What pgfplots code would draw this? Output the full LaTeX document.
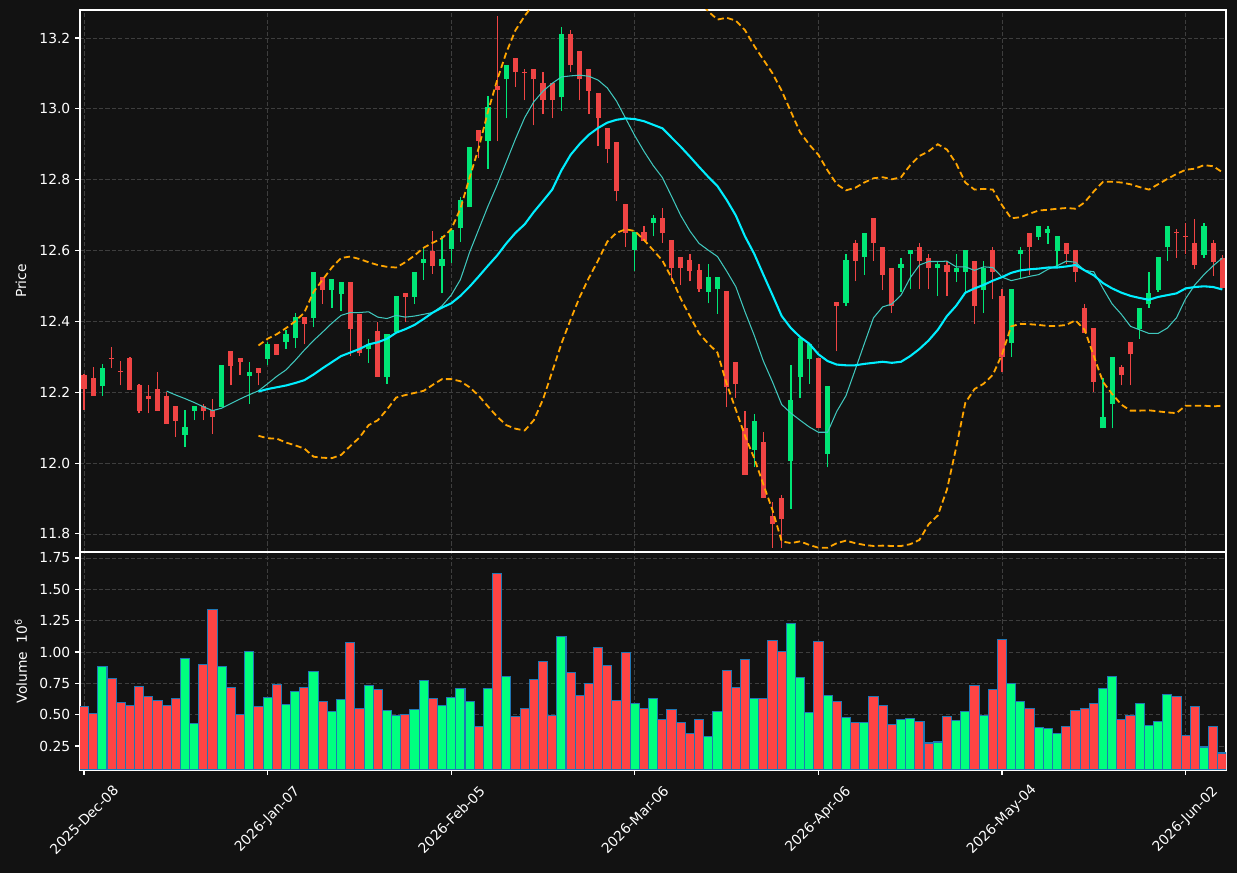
\documentclass[border=0pt]{standalone}
\usepackage{pgfplots}
\pgfplotsset{compat=1.18}
\usepackage{pgfplotstable}
\usepackage{fontspec}
\setmainfont{DejaVu Sans}
\definecolor{bg}{RGB}{18,18,18}
\definecolor{cup}{RGB}{0,230,118}
\definecolor{cdn}{RGB}{239,68,68}
\definecolor{vup}{RGB}{0,255,127}
\definecolor{vdn}{RGB}{255,68,68}
\definecolor{vedge}{RGB}{31,119,180}
\definecolor{gridc}{RGB}{62,62,62}
\definecolor{maA}{RGB}{0,238,255}
\definecolor{maB}{RGB}{64,200,190}
\definecolor{bb}{RGB}{255,165,0}

% up candles: index open high low close volume(1e6)
\pgfplotstableread{
i o h l c v
2 12.217 12.280 12.190 12.268 0.887
11 12.080 12.149 12.045 12.102 0.951
12 12.148 12.161 12.121 12.161 0.433
15 12.158 12.276 12.158 12.276 0.887
18 12.247 12.286 12.168 12.256 1.006
20 12.294 12.341 12.276 12.335 0.640
22 12.342 12.376 12.322 12.364 0.584
23 12.352 12.425 12.325 12.411 0.688
25 12.410 12.538 12.384 12.538 0.847
27 12.488 12.519 12.439 12.519 0.529
28 12.478 12.510 12.430 12.510 0.624
31 12.322 12.351 12.283 12.335 0.736
33 12.244 12.364 12.224 12.364 0.537
34 12.371 12.471 12.371 12.471 0.497
36 12.469 12.538 12.449 12.538 0.545
37 12.565 12.606 12.517 12.577 0.775
39 12.555 12.640 12.479 12.577 0.576
40 12.604 12.657 12.565 12.657 0.640
41 12.663 12.751 12.624 12.743 0.712
42 12.722 12.891 12.722 12.891 0.608
44 12.908 13.036 12.831 13.006 0.712
46 13.083 13.125 12.973 13.125 0.807
52 13.032 13.230 12.995 13.212 1.126
60 12.601 12.651 12.542 12.651 0.590
62 12.679 12.701 12.640 12.691 0.632
68 12.483 12.562 12.451 12.525 0.322
69 12.490 12.525 12.422 12.525 0.529
73 12.038 12.138 11.989 12.119 0.632
77 12.007 12.276 11.870 12.178 1.229
78 12.244 12.354 12.185 12.354 0.799
79 12.295 12.337 12.224 12.337 0.521
81 12.027 12.217 11.988 12.217 0.656
83 12.451 12.591 12.444 12.572 0.481
85 12.581 12.650 12.532 12.650 0.441
89 12.552 12.579 12.483 12.561 0.465
90 12.591 12.601 12.490 12.601 0.473
93 12.552 12.571 12.471 12.561 0.282
95 12.540 12.591 12.511 12.552 0.457
96 12.540 12.601 12.483 12.601 0.529
98 12.488 12.571 12.423 12.552 0.497
101 12.340 12.490 12.300 12.490 0.752
102 12.591 12.611 12.521 12.601 0.608
104 12.638 12.669 12.630 12.669 0.401
105 12.650 12.669 12.619 12.660 0.393
106 12.599 12.640 12.552 12.640 0.353
111 12.098 12.239 12.098 12.129 0.712
112 12.167 12.299 12.098 12.299 0.807
115 12.379 12.439 12.351 12.439 0.592
116 12.449 12.540 12.439 12.479 0.417
117 12.488 12.581 12.483 12.581 0.449
118 12.609 12.669 12.570 12.669 0.664
122 12.586 12.679 12.579 12.669 0.242
}\upc

% down candles
\pgfplotstableread{
i o h l c v
0 12.249 12.252 12.151 12.209 0.568
1 12.239 12.270 12.190 12.190 0.513
3 12.298 12.327 12.268 12.296 0.791
4 12.259 12.288 12.219 12.257 0.600
5 12.298 12.300 12.205 12.207 0.576
6 12.220 12.222 12.140 12.148 0.728
7 12.190 12.219 12.140 12.180 0.648
8 12.209 12.256 12.148 12.148 0.616
9 12.190 12.200 12.110 12.111 0.576
10 12.161 12.161 12.074 12.120 0.627
13 12.160 12.168 12.121 12.148 0.903
14 12.150 12.180 12.082 12.131 1.341
16 12.315 12.315 12.219 12.275 0.720
17 12.296 12.298 12.249 12.286 0.505
19 12.268 12.268 12.219 12.255 0.568
21 12.335 12.335 12.305 12.305 0.744
24 12.411 12.411 12.335 12.393 0.720
26 12.526 12.526 12.449 12.488 0.608
29 12.510 12.510 12.302 12.379 1.078
30 12.420 12.420 12.302 12.311 0.553
32 12.372 12.398 12.244 12.244 0.704
35 12.479 12.479 12.398 12.469 0.505
38 12.599 12.656 12.535 12.555 0.632
43 12.939 12.939 12.860 12.908 0.409
45 13.065 13.262 12.908 13.054 1.627
47 13.144 13.144 13.063 13.103 0.489
48 13.104 13.112 13.024 13.102 0.553
49 13.113 13.113 12.953 13.083 0.783
50 13.073 13.103 12.985 13.024 0.927
51 13.073 13.073 12.973 13.024 0.497
53 13.212 13.222 13.103 13.123 0.839
54 13.164 13.164 13.024 13.083 0.656
55 13.113 13.113 12.985 13.051 0.752
56 13.044 13.044 12.895 12.973 1.038
57 12.946 12.946 12.846 12.886 0.895
58 12.906 12.906 12.739 12.767 0.616
59 12.730 12.730 12.610 12.649 0.998
61 12.651 12.669 12.628 12.628 0.553
63 12.691 12.720 12.622 12.649 0.465
64 12.631 12.631 12.513 12.551 0.545
65 12.583 12.583 12.503 12.551 0.441
66 12.573 12.591 12.513 12.542 0.346
67 12.544 12.562 12.483 12.490 0.465
70 12.485 12.485 12.157 12.214 0.855
71 12.285 12.285 12.185 12.223 0.720
72 12.099 12.146 11.967 11.967 0.943
74 12.060 12.087 11.901 11.901 0.632
75 11.851 11.889 11.761 11.829 1.094
76 11.901 11.910 11.761 11.841 1.006
80 12.296 12.296 12.099 12.099 1.086
82 12.454 12.454 12.315 12.443 0.608
84 12.622 12.630 12.513 12.571 0.441
86 12.691 12.691 12.571 12.622 0.648
87 12.611 12.611 12.488 12.532 0.576
88 12.552 12.552 12.423 12.442 0.425
91 12.611 12.620 12.490 12.571 0.449
92 12.579 12.591 12.490 12.552 0.274
94 12.560 12.571 12.471 12.540 0.489
97 12.571 12.571 12.393 12.442 0.736
99 12.601 12.611 12.462 12.540 0.704
100 12.471 12.490 12.256 12.300 1.102
103 12.650 12.650 12.530 12.611 0.553
107 12.620 12.620 12.562 12.591 0.409
108 12.601 12.601 12.511 12.540 0.537
109 12.439 12.449 12.368 12.368 0.553
110 12.381 12.381 12.200 12.229 0.592
113 12.271 12.278 12.219 12.248 0.465
114 12.341 12.341 12.219 12.307 0.497
119 12.651 12.660 12.579 12.649 0.648
120 12.640 12.679 12.591 12.638 0.330
121 12.620 12.689 12.549 12.559 0.568
123 12.620 12.630 12.529 12.567 0.409
124 12.579 12.586 12.493 12.493 0.194
}\dnc

% 10-day average
\pgfplotstableread{
i m
9 12.203
10 12.192
11 12.182
12 12.171
13 12.159
14 12.148
15 12.155
16 12.168
17 12.181
18 12.193
19 12.204
20 12.224
21 12.245
22 12.263
23 12.290
24 12.319
25 12.346
26 12.370
27 12.395
28 12.417
29 12.425
30 12.425
31 12.427
32 12.412
33 12.408
34 12.417
35 12.412
36 12.415
37 12.420
38 12.425
39 12.444
40 12.474
41 12.518
42 12.595
43 12.660
44 12.725
45 12.785
46 12.850
47 12.915
48 12.975
49 13.020
50 13.050
51 13.072
52 13.090
53 13.093
54 13.095
55 13.092
56 13.081
57 13.059
58 13.022
59 12.973
60 12.924
61 12.880
62 12.840
63 12.806
64 12.753
65 12.699
66 12.655
67 12.620
68 12.601
69 12.583
70 12.542
71 12.498
72 12.427
73 12.361
74 12.288
75 12.229
76 12.165
77 12.141
78 12.121
79 12.102
80 12.087
81 12.087
82 12.146
83 12.190
84 12.263
85 12.337
86 12.410
87 12.441
88 12.449
89 12.474
90 12.523
91 12.559
92 12.569
93 12.569
94 12.570
95 12.554
96 12.554
97 12.544
98 12.554
99 12.552
100 12.525
101 12.515
102 12.521
103 12.527
104 12.532
105 12.547
106 12.557
107 12.570
108 12.567
109 12.544
110 12.540
111 12.493
112 12.449
113 12.420
114 12.386
115 12.376
116 12.366
117 12.366
118 12.381
119 12.410
120 12.464
121 12.503
122 12.532
123 12.557
124 12.579
}\maten

% 20-day average with upper and lower bands
\pgfplotstableread{
i mid up lo
19 12.202 12.332 12.077
20 12.209 12.351 12.070
21 12.214 12.364 12.069
22 12.219 12.381 12.058
23 12.226 12.400 12.050
24 12.234 12.425 12.041
25 12.250 12.483 12.018
26 12.268 12.518 12.015
27 12.285 12.552 12.014
28 12.302 12.579 12.023
29 12.312 12.583 12.048
30 12.322 12.576 12.072
31 12.335 12.567 12.107
32 12.341 12.559 12.121
33 12.351 12.554 12.151
34 12.368 12.552 12.185
35 12.378 12.567 12.192
36 12.390 12.586 12.198
37 12.407 12.608 12.204
38 12.425 12.622 12.221
39 12.439 12.635 12.237
40 12.451 12.660 12.237
41 12.472 12.718 12.231
42 12.498 12.806 12.214
43 12.527 12.890 12.190
44 12.557 12.992 12.160
45 12.586 13.081 12.131
46 12.620 13.159 12.107
47 12.650 13.222 12.097
48 12.674 13.262 12.092
49 12.709 13.297 12.121
50 12.740 13.300 12.180
51 12.772 13.286 12.258
52 12.826 13.315 12.337
53 12.870 13.335 12.405
54 12.901 13.333 12.469
55 12.927 13.331 12.523
56 12.946 13.320 12.572
57 12.961 13.297 12.625
58 12.969 13.288 12.650
59 12.973 13.286 12.660
60 12.971 13.287 12.655
61 12.965 13.300 12.630
62 12.955 13.309 12.601
63 12.945 13.318 12.572
64 12.919 13.315 12.523
65 12.893 13.322 12.464
66 12.865 13.315 12.415
67 12.836 13.306 12.366
68 12.808 13.275 12.337
69 12.782 13.252 12.312
70 12.743 13.257 12.224
71 12.699 13.249 12.151
72 12.640 13.222 12.077
73 12.591 13.178 12.014
74 12.532 13.139 11.940
75 12.474 13.100 11.867
76 12.415 13.051 11.779
77 12.381 12.992 11.774
78 12.356 12.934 11.779
79 12.337 12.899 11.769
80 12.307 12.870 11.761
81 12.288 12.826 11.761
82 12.278 12.787 11.774
83 12.276 12.770 11.781
84 12.276 12.777 11.774
85 12.280 12.792 11.769
86 12.283 12.804 11.766
87 12.286 12.807 11.767
88 12.283 12.801 11.766
89 12.286 12.807 11.766
90 12.302 12.841 11.771
91 12.322 12.867 11.783
92 12.346 12.880 11.827
93 12.376 12.900 11.852
94 12.415 12.885 11.925
95 12.444 12.846 12.043
96 12.481 12.792 12.170
97 12.493 12.772 12.209
98 12.503 12.774 12.224
99 12.515 12.772 12.249
100 12.525 12.728 12.307
101 12.537 12.691 12.386
102 12.544 12.694 12.393
103 12.547 12.704 12.392
104 12.549 12.713 12.390
105 12.552 12.715 12.387
106 12.552 12.718 12.387
107 12.555 12.720 12.390
108 12.559 12.718 12.403
109 12.544 12.736 12.376
110 12.530 12.767 12.302
111 12.508 12.794 12.229
112 12.493 12.794 12.195
113 12.481 12.792 12.165
114 12.472 12.787 12.148
115 12.466 12.779 12.148
116 12.461 12.772 12.149
117 12.469 12.787 12.146
118 12.474 12.802 12.143
119 12.479 12.816 12.141
120 12.493 12.828 12.162
121 12.497 12.831 12.162
122 12.499 12.841 12.162
123 12.497 12.838 12.160
124 12.490 12.821 12.162
}\bands

\pgfplotsset{
  common/.style={
    scale only axis, width=11.46in,
    xmin=-0.44, xmax=124.4,
    axis background/.style={fill=bg},
    axis line style={white, line width=0.8pt},
    grid=major,
    major grid style={gridc, dash pattern=on 3pt off 1.6pt, line width=0.6pt},
    tick align=outside, major tick length=3.5pt,
    tick style={white, line width=0.8pt},
    ticklabel style={white, font=\fontsize{10}{12}\selectfont},
    /pgf/number format/assume math mode=true,
    xtick={0,20,40,60,80,100,120},
    ytick pos=left,
    every axis y label/.style={at={(axis description cs:-0.0515,0.5)}, rotate=90, anchor=center, white, font=\fontsize{10}{12}\selectfont},
  },
  wick/.style={#1, only marks, mark=none, no markers, mark options={draw opacity=0, fill opacity=0},
    error bars/.cd, y dir=plus, y explicit, error mark=none, error bar style={line width=0.9pt, color=#1, opacity=1}},
  body/.style={#1, only marks, mark=none, no markers, mark options={draw opacity=0, fill opacity=0},
    error bars/.cd, y dir=plus, y explicit, error mark=none, error bar style={line width=3.7pt, color=#1, opacity=1}},
}

\begin{document}
\begin{tikzpicture}
\path[use as bounding box, fill=bg] (0,0) rectangle (12.37in,8.73in);

\begin{axis}[common,
  at={(0.80in,3.21in)}, anchor=south west, height=5.42in,
  ymin=11.749, ymax=13.279,
  ytick={11.8,12.0,12.2,12.4,12.6,12.8,13.0,13.2},
  yticklabel style={/pgf/number format/.cd, fixed, fixed zerofill, precision=1},
  xticklabels={}, xtick style={draw=none},
  ylabel={Price}]
  \addplot[wick=cup] table[x=i, y=l, y error plus expr=\thisrow{h}-\thisrow{l}] {\upc};
  \addplot[wick=cdn] table[x=i, y=l, y error plus expr=\thisrow{h}-\thisrow{l}] {\dnc};
  \addplot[body=cup] table[x=i, y=o, y error plus expr=\thisrow{c}-\thisrow{o}] {\upc};
  \addplot[body=cdn] table[x=i, y=c, y error plus expr=\thisrow{o}-\thisrow{c}] {\dnc};
  \addplot[bb, line width=1.3pt, dash pattern=on 4.5pt off 2.5pt] table[x=i, y=up] {\bands};
  \addplot[bb, line width=1.3pt, dash pattern=on 4.5pt off 2.5pt] table[x=i, y=lo] {\bands};
  \addplot[maB, line width=0.75pt] table[x=i, y=m] {\maten};
  \addplot[maA, line width=1.5pt] table[x=i, y=mid] {\bands};
\end{axis}

\begin{axis}[common,
  at={(0.80in,1.03in)}, anchor=south west, height=2.18in,
  ymin=0.0585, ymax=1.798,
  ytick={0.25,0.50,0.75,1.00,1.25,1.50,1.75},
  yticklabel style={/pgf/number format/.cd, fixed, fixed zerofill, precision=2},
  xtick pos=bottom,
  xticklabels={2025-Dec-08,2026-Jan-07,2026-Feb-05,2026-Mar-06,2026-Apr-06,2026-May-04,2026-Jun-02},
  xticklabel style={rotate=45, anchor=center},
  xticklabel shift=0.45in,
  ylabel={Volume \ 10\textsuperscript{6}}]
  \addplot[ybar, bar width=1, bar shift=0pt, fill=vup, draw=vedge, line width=0.75pt] table[x=i, y=v] {\upc};
  \addplot[ybar, bar width=1, bar shift=0pt, fill=vdn, draw=vedge, line width=0.75pt] table[x=i, y=v] {\dnc};
\end{axis}
\end{tikzpicture}
\end{document}
